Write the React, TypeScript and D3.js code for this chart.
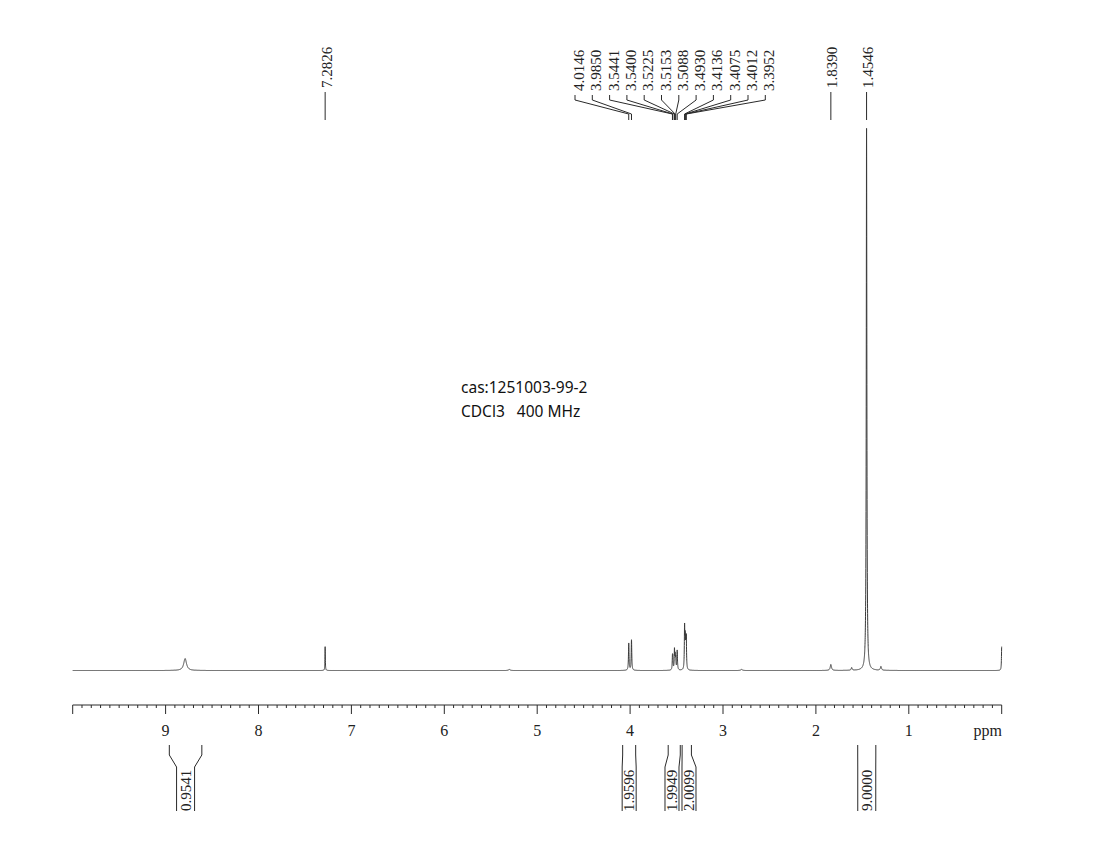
import React from 'react';
import * as d3 from 'd3';

// ---- data ----
const axisTickLabels = [9, 8, 7, 6, 5, 4, 3, 2, 1];
const peakPpm = [8.79, 7.2826, 5.3, 4.0146, 3.985, 3.5441, 3.54, 3.5225, 3.5153, 3.5088, 3.493, 3.4136, 3.4075, 3.4012, 3.3952, 2.8, 1.839, 1.615, 1.4546, 1.3, 0.0];
const peakHeight = [2.2, 4.4, 0.2, 5.0, 5.6, 2.2, 2.0, 3.6, 2.4, 2.0, 3.6, 7.4, 4.8, 4.4, 5.4, 0.2, 1.1, 0.5, 100, 0.7, 4.4];
const peakHwhm = [0.018, 0.0022, 0.01, 0.0035, 0.0035, 0.003, 0.003, 0.003, 0.003, 0.003, 0.0035, 0.003, 0.003, 0.003, 0.003, 0.01, 0.008, 0.006, 0.0038, 0.007, 0.003];

const singleLabels = ['7.2826', '1.8390', '1.4546'];
const groupLabels = ['4.0146', '3.9850', '3.5441', '3.5400', '3.5225', '3.5153', '3.5088', '3.4930', '3.4136', '3.4075', '3.4012', '3.3952'];

const integralFrom = [8.96, 4.08, 3.59, 3.44, 1.55];
const integralTo = [8.61, 3.94, 3.46, 3.34, 1.355];
const integralValues = ['0.9541', '1.9596', '1.9949', '2.0099', '9.0000'];

const annotationLines = ['cas:1251003-99-2', 'CDCl3\u00a0\u00a0\u00a0400 MHz'];

// ---- layout ----
const W = 1111;
const H = 843;
const SERIF = '"Liberation Serif", "Times New Roman", serif';
const SANS = '"Noto Sans", "Open Sans", sans-serif';
const INK = '#2a2a2a';

export default function App() {
  const x = d3.scaleLinear().domain([10, 0]).range([72.7, 1001.7]);
  const y = d3.scaleLinear().domain([0, 100]).range([670.5, 128]);

  // spectrum: sum of Lorentzian lines from the peak list
  const pts: [number, number][] = [];
  const step = 0.0005;
  for (let i = 0; i <= 20000; i++) {
    const p = 10 - i * step;
    let v = 0;
    for (let k = 0; k < peakPpm.length; k++) {
      const d = (p - peakPpm[k]) / peakHwhm[k];
      v += peakHeight[k] / (1 + d * d);
    }
    pts.push([p, v]);
  }
  const line = d3
    .line<[number, number]>()
    .x((d) => x(d[0]))
    .y((d) => y(d[1]));

  const axisY = 705;
  const ticks = d3.range(0, 101).map((i) => i / 10);

  // integrals: boxes
  const topY = 745;
  const diagY0 = 755;
  const diagY1 = 767;
  const botY = 811;
  const boxes = integralFrom.map((f, i) => {
    const a = x(f);
    const b = x(integralTo[i]);
    const c = (a + b) / 2;
    const w = Math.max(14, Math.min(18, b - a));
    return { a, b, l: c - w / 2, r: c + w / 2 };
  });
  for (let it = 0; it < 5; it++) {
    for (let i = 0; i < boxes.length - 1; i++) {
      const gap = boxes[i + 1].l - boxes[i].r;
      if (gap < 3) {
        const s = (3 - gap) / 2;
        boxes[i].l -= s;
        boxes[i].r -= s;
        boxes[i + 1].l += s;
        boxes[i + 1].r += s;
      }
    }
  }

  // group label positions
  const gStart = 579;
  const gStep = 17.3;

  return (
    <svg width={W} height={H} style={{ position: 'absolute', left: 0, top: 0, background: '#fff' }}>
      <rect x={0} y={0} width={W} height={H} fill="#fff" />

      {/* spectrum */}
      <path d={line(pts) || ''} fill="none" stroke="#3a3a3a" strokeWidth={1} />

      {/* axis */}
      <line x1={x(10)} x2={x(0)} y1={axisY} y2={axisY} stroke={INK} strokeWidth={1} />
      {ticks.map((t, i) => {
        const major = Math.abs(t - Math.round(t)) < 1e-6;
        return (
          <line
            key={i}
            x1={x(t)}
            x2={x(t)}
            y1={axisY}
            y2={axisY + (major ? 9 : 3)}
            stroke={INK}
            strokeWidth={1}
          />
        );
      })}
      {axisTickLabels.map((t) => (
        <text key={t} x={x(t)} y={736} textAnchor="middle" fontFamily={SERIF} fontSize={16} fill="#222">
          {t}
        </text>
      ))}
      <text x={1002} y={736} textAnchor="end" fontFamily={SERIF} fontSize={16} fill="#222">
        ppm
      </text>

      {/* single peak labels */}
      {singleLabels.map((s) => {
        const px = x(parseFloat(s));
        return (
          <g key={s}>
            <text
              transform={`translate(${px + 1.5},88) rotate(-90)`}
              dominantBaseline="central"
              fontFamily={SERIF}
              fontSize={15}
              fill="#222"
            >
              {s}
            </text>
            <line x1={px} x2={px} y1={92} y2={120} stroke={INK} strokeWidth={1} />
          </g>
        );
      })}

      {/* grouped peak labels */}
      {groupLabels.map((s, i) => {
        const lx = gStart + i * gStep;
        const px = x(parseFloat(s));
        return (
          <g key={s}>
            <text
              transform={`translate(${lx},91) rotate(-90)`}
              dominantBaseline="central"
              fontFamily={SERIF}
              fontSize={15}
              fill="#222"
            >
              {s}
            </text>
            <polyline
              points={`${lx - 4},95 ${lx - 4},100 ${px},114 ${px},120`}
              fill="none"
              stroke={INK}
              strokeWidth={1}
            />
          </g>
        );
      })}

      {/* integrals */}
      {integralValues.map((v, i) => {
        const b = boxes[i];
        const c = (b.l + b.r) / 2;
        return (
          <g key={v}>
            <polyline
              points={`${b.a},${topY} ${b.a},${diagY0} ${b.l},${diagY1} ${b.l},${botY}`}
              fill="none"
              stroke={INK}
              strokeWidth={1}
            />
            <polyline
              points={`${b.b},${topY} ${b.b},${diagY0} ${b.r},${diagY1} ${b.r},${botY}`}
              fill="none"
              stroke={INK}
              strokeWidth={1}
            />
            <text
              transform={`translate(${c},${botY}) rotate(-90)`}
              dominantBaseline="central"
              fontFamily={SERIF}
              fontSize={15}
              fill="#222"
            >
              {v}
            </text>
          </g>
        );
      })}

      {/* annotation */}
      {annotationLines.map((t, i) => (
        <text key={i} x={461} y={393 + i * 24} fontFamily={SANS} fontSize={15.5} fill="#111">
          {t}
        </text>
      ))}
    </svg>
  );
}
